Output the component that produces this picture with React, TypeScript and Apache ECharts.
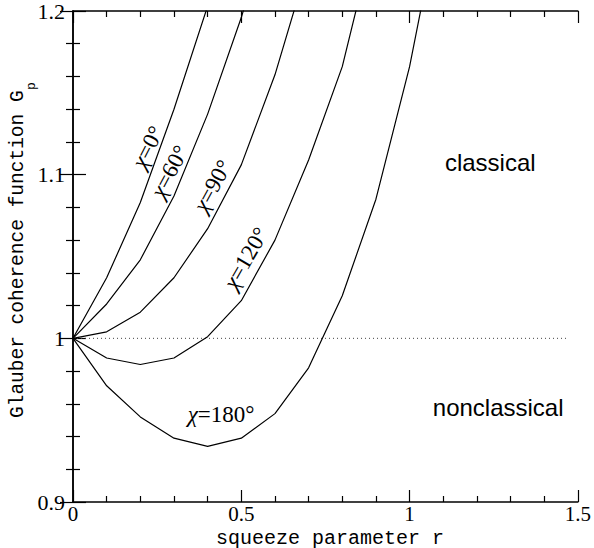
import React, { useEffect, useRef } from "react";
import * as echarts from "echarts";

const rValues = [0, 0.1, 0.2, 0.3, 0.4, 0.5, 0.6, 0.7, 0.8, 0.9, 1.0, 1.1];
const chi0 = [1, 1.037, 1.083, 1.14, 1.203, 1.27];
const chi60 = [1, 1.021, 1.048, 1.087, 1.137, 1.196, 1.265];
const chi90 = [1, 1.004, 1.016, 1.037, 1.067, 1.106, 1.161, 1.23];
const chi120 = [1, 0.988, 0.984, 0.988, 1.001, 1.023, 1.06, 1.109, 1.166, 1.25];
const chi180 = [1, 0.971, 0.952, 0.939, 0.934, 0.939, 0.954, 0.982, 1.026, 1.085, 1.166, 1.27];

const xTicks = [0, 0.5, 1, 1.5];
const yTicks = [0.9, 1, 1.1, 1.2];

const curveLabels = [
  { angle: "0", r: 0.222, g: 1.1168, rot: 63 },
  { angle: "60", r: 0.287, g: 1.1019, rot: 62 },
  { angle: "90", r: 0.415, g: 1.0931, rot: 61 },
  { angle: "120", r: 0.514, g: 1.0489, rot: 60 },
  { angle: "180", r: 0.44, g: 0.9537, rot: 0 },
];
const regionLabels = [
  { text: "classical", r: 1.105, g: 1.1077 },
  { text: "nonclassical", r: 1.069, g: 0.958 },
];

const yTitle = "Glauber coherence function G";
const ySub = "p";
const xTitle = "squeeze parameter r";

function pairs(vals: number[]) {
  return vals.map((v, i) => [rValues[i], v]);
}

export default function App() {
  const ref = useRef<HTMLDivElement>(null);
  useEffect(() => {
    if (!ref.current) return;
    const chart = echarts.init(ref.current, undefined, { renderer: "svg" });
    const axisLineStyle = { color: "#000", width: 1.5 };
    const tickStyle = { color: "#000", width: 1.2 };
    const fmt = (v: number) => String(parseFloat(v.toFixed(2)));
    const xBase = {
      type: "value" as const,
      min: xTicks[0],
      max: xTicks[xTicks.length - 1],
      interval: 0.5,
      splitLine: { show: false },
      axisLine: { show: true, lineStyle: axisLineStyle },
      axisTick: { show: true, inside: true, length: 12, lineStyle: tickStyle },
      minorTick: { show: true, splitNumber: 5, length: 6, lineStyle: tickStyle },
    };
    const yBase = {
      type: "value" as const,
      min: yTicks[0],
      max: yTicks[yTicks.length - 1],
      interval: 0.1,
      splitLine: { show: false },
      axisLine: { show: true, lineStyle: axisLineStyle },
      axisTick: { show: true, inside: true, length: 13, lineStyle: tickStyle },
      minorTick: { show: true, splitNumber: 5, length: 7, lineStyle: tickStyle },
    };
    const lineSeries = (name: string, vals: number[]) => ({
      name,
      type: "line" as const,
      data: pairs(vals),
      showSymbol: false,
      symbol: "none",
      clip: true,
      lineStyle: { color: "#000", width: 1.2 },
      xAxisIndex: 0,
      yAxisIndex: 0,
    });
    chart.setOption({
      animation: false,
      grid: { left: 73, right: 16, top: 11, bottom: 46, containLabel: false },
      xAxis: [
        {
          ...xBase,
          position: "bottom",
          axisLabel: {
            show: true,
            margin: 2,
            formatter: fmt,
            color: "#000",
            fontFamily: "Liberation Serif",
            fontSize: 21,
            lineHeight: 20,
          },
        },
        { ...xBase, position: "top", axisLabel: { show: false } },
      ],
      yAxis: [
        {
          ...yBase,
          position: "left",
          axisLabel: {
            show: true,
            margin: 8,
            formatter: fmt,
            color: "#000",
            fontFamily: "Liberation Serif",
            fontSize: 22,
          },
        },
        { ...yBase, position: "right", axisLabel: { show: false } },
      ],
      series: [
        {
          name: "reference",
          type: "line",
          data: [
            [xTicks[0], 1],
            [xTicks[xTicks.length - 1] - 0.03, 1],
          ],
          showSymbol: false,
          symbol: "none",
          lineStyle: { color: "#444", width: 1, type: [1, 3] },
          xAxisIndex: 0,
          yAxisIndex: 0,
        },
        lineSeries("chi0", chi0),
        lineSeries("chi60", chi60),
        lineSeries("chi90", chi90),
        lineSeries("chi120", chi120),
        lineSeries("chi180", chi180),
      ],
    });

    const graphics: any[] = [];
    curveLabels.forEach((l) => {
      const p = chart.convertToPixel({ gridIndex: 0 }, [l.r, l.g]) as number[];
      graphics.push({
        type: "text",
        x: p[0],
        y: p[1],
        rotation: (l.rot * Math.PI) / 180,
        style: {
          text: `{i|χ}{n|=${l.angle}°}`,
          align: "center",
          verticalAlign: "middle",
          fill: "#000",
          rich: {
            i: { fontStyle: "italic", fontFamily: "Liberation Serif", fontSize: 23, fill: "#000" },
            n: { fontFamily: "Liberation Serif", fontSize: 23, fill: "#000" },
          },
        },
      });
    });
    regionLabels.forEach((l) => {
      const p = chart.convertToPixel({ gridIndex: 0 }, [l.r, l.g]) as number[];
      graphics.push({
        type: "text",
        x: p[0],
        y: p[1],
        style: {
          text: l.text,
          align: "left",
          verticalAlign: "middle",
          fill: "#000",
          fontFamily: "Liberation Sans",
          fontSize: 24,
        },
      });
    });
    graphics.push({
      type: "text",
      x: 18,
      y: 418,
      rotation: Math.PI / 2,
      style: {
        text: yTitle,
        align: "left",
        verticalAlign: "middle",
        fill: "#000",
        fontFamily: "Liberation Mono",
        fontSize: 19.5,
      },
    });
    graphics.push({
      type: "text",
      x: 31,
      y: 90,
      rotation: Math.PI / 2,
      style: {
        text: ySub,
        align: "left",
        verticalAlign: "middle",
        fill: "#000",
        fontFamily: "Liberation Mono",
        fontSize: 13,
      },
    });
    graphics.push({
      type: "text",
      x: 330,
      y: 538,
      style: {
        text: xTitle,
        align: "center",
        verticalAlign: "middle",
        fill: "#000",
        fontFamily: "Liberation Mono",
        fontSize: 20,
        lineHeight: 18,
      },
    });
    chart.setOption({ graphic: graphics });

    return () => chart.dispose();
  }, []);
  return (
    <div
      ref={ref}
      style={{ position: "fixed", left: 0, top: 0, width: 594, height: 548, background: "#fff" }}
    />
  );
}
